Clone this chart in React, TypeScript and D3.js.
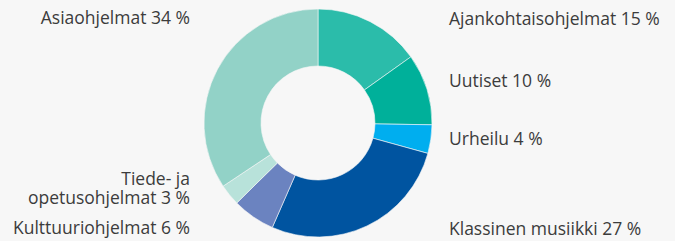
import React from "react";
import * as d3 from "d3";

const categories = [
  "Ajankohtaisohjelmat",
  "Uutiset",
  "Urheilu",
  "Klassinen musiikki",
  "Kulttuuriohjelmat",
  "Tiede- ja opetusohjelmat",
  "Asiaohjelmat",
];
const shares = [15, 10, 4, 27, 6, 3, 34];
const colors = ["#2bbcaa", "#00b09a", "#00aeef", "#0054a0", "#6b83c0", "#b8e2da", "#92d2c7"];

// label lines, side and baseline for each slice
const labelLines = [
  ["Ajankohtaisohjelmat 15 %"],
  ["Uutiset 10 %"],
  ["Urheilu 4 %"],
  ["Klassinen musiikki 27 %"],
  ["Kulttuuriohjelmat 6 %"],
  ["Tiede- ja", "opetusohjelmat 3 %"],
  ["Asiaohjelmat 34 %"],
];
const labelSide = ["right", "right", "right", "right", "left", "left", "left"];
const labelBaseline = [25, 87, 145, 235, 234, 185, 24];

const width = 675;
const height = 241;
const cx = 318;
const cy = 123;
const outerR = 114;
const innerR = 57;

export default function App() {
  const pie = d3
    .pie<number>()
    .sort(null)
    .value((d) => d);
  const arcs = pie(shares);
  const arc = d3.arc<d3.PieArcDatum<number>>().innerRadius(innerR).outerRadius(outerR);

  return (
    <div style={{ position: "fixed", left: 0, top: 0, width, height, background: "#f7f7f7" }}>
      <svg width={width} height={height} style={{ display: "block" }}>
        <rect width={width} height={height} fill="#f7f7f7" />
        <g transform={`translate(${cx},${cy})`}>
          {arcs.map((a, i) => (
            <path key={categories[i]} d={arc(a) || ""} fill={colors[i]} stroke="#f7f7f7" strokeWidth={0.6} />
          ))}
        </g>
        <g fontFamily="'Open Sans', sans-serif" fontSize={17.5} fill="#3c3c3c">
          {labelLines.map((lines, i) => {
            const right = labelSide[i] === "right";
            return lines.map((l, j) => (
              <text
                key={categories[i] + j}
                x={right ? 449 : 190}
                y={labelBaseline[i] + j * 19}
                textAnchor={right ? "start" : "end"}
              >
                {l}
              </text>
            ));
          })}
        </g>
      </svg>
    </div>
  );
}
